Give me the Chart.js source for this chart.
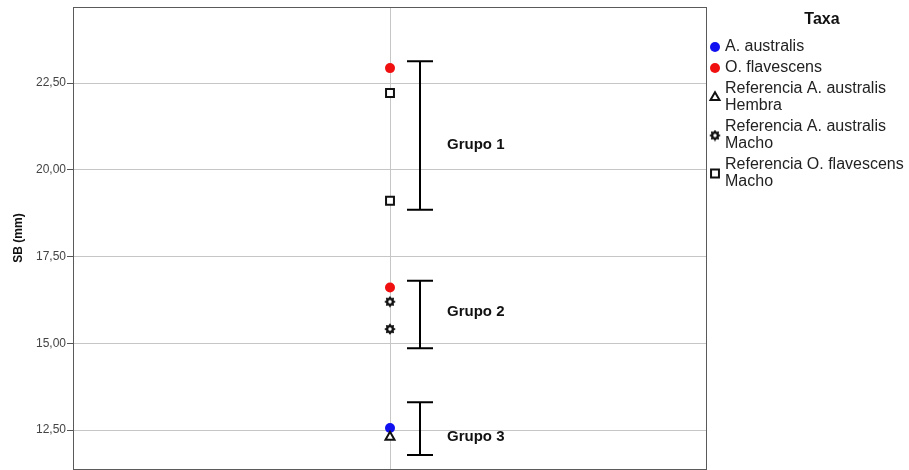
<!DOCTYPE html>
<html>
<head>
<meta charset="utf-8">
<script src="https://cdn.jsdelivr.net/npm/chart.js@4/dist/chart.umd.min.js"></script>
<style>
  html, body { margin: 0; padding: 0; background: #fff; }
  #wrap { width: 909px; height: 470px; }
</style>
</head>
<body>
<div id="wrap"><canvas id="c" width="909" height="470"></canvas></div>
<script>
// SB (mm) values per taxon
const taxa = ['A. australis', 'O. flavescens', 'Referencia A. australis Hembra', 'Referencia A. australis Macho', 'Referencia O. flavescens Macho'];
const legendLines = [['A. australis'], ['O. flavescens'], ['Referencia A. australis', 'Hembra'], ['Referencia A. australis', 'Macho'], ['Referencia O. flavescens', 'Macho']];
const aAustralis = [12.56];
const oFlavescens = [22.93, 16.61];
const refAAustralisHembra = [12.30];
const refAAustralisMacho = [16.20, 15.41];
const refOFlavescensMacho = [22.21, 19.11];

// Groups marked beside the points
const groupNames = ['Grupo 1', 'Grupo 2', 'Grupo 3'];
const groupTop = [23.13, 16.80, 13.30];
const groupBottom = [18.85, 14.86, 11.78];
const groupLabelAt = [20.71, 15.91, 12.30];

// Axis
const yTicks = [12.5, 15, 17.5, 20, 22.5];
const yMin = 11.38, yMax = 24.69;

const FONT = '"Liberation Sans", Arial, sans-serif';

// Sun-like star marker
function makeStar(size) {
  const c = document.createElement('canvas');
  c.width = c.height = size;
  const g = c.getContext('2d');
  const cx = size / 2, cy = size / 2;
  const ro = size / 2 - 0.2, ri = ro * 0.68;
  g.beginPath();
  for (let i = 0; i < 16; i++) {
    const a = -Math.PI / 2 + i * Math.PI / 8;
    const r = i % 2 === 0 ? ro : ri;
    const x = cx + r * Math.cos(a), y = cy + r * Math.sin(a);
    i === 0 ? g.moveTo(x, y) : g.lineTo(x, y);
  }
  g.closePath();
  g.fillStyle = '#111';
  g.fill();
  g.beginPath();
  g.arc(cx, cy, ro * 0.3, 0, Math.PI * 2);
  g.fillStyle = '#fff';
  g.fill();
  return c;
}
const starImg = makeStar(12);

const pts = arr => arr.map(v => ({ x: 0, y: v }));

const styles = [
  { pointStyle: 'circle', radius: 5, backgroundColor: '#1010f0', borderColor: '#1010f0', borderWidth: 0 },
  { pointStyle: 'circle', radius: 5, backgroundColor: '#f01010', borderColor: '#f01010', borderWidth: 0 },
  { pointStyle: 'triangle', radius: 5.2, backgroundColor: '#fff', borderColor: '#111', borderWidth: 2 },
  { pointStyle: starImg, radius: 6, backgroundColor: '#111', borderColor: '#111', borderWidth: 0 },
  { pointStyle: 'rect', radius: 5.6, backgroundColor: '#fff', borderColor: '#111', borderWidth: 2 }
];
const series = [aAustralis, oFlavescens, refAAustralisHembra, refAAustralisMacho, refOFlavescensMacho];

// Draw order: references first, sample points on top
const order = [2, 3, 4, 0, 1];
const datasets = order.map(i => ({
  label: taxa[i],
  data: pts(series[i]),
  pointStyle: styles[i].pointStyle,
  pointRadius: styles[i].radius,
  pointHoverRadius: styles[i].radius,
  pointBackgroundColor: styles[i].backgroundColor,
  pointBorderColor: styles[i].borderColor,
  pointBorderWidth: styles[i].borderWidth,
  showLine: false,
  clip: false
}));

function drawMarker(ctx, s, px, py) {
  ctx.save();
  ctx.fillStyle = s.backgroundColor;
  ctx.strokeStyle = s.borderColor;
  ctx.lineWidth = s.borderWidth || 1;
  Chart.helpers.drawPoint(ctx, { pointStyle: s.pointStyle, radius: s.radius, borderWidth: s.borderWidth }, px, py);
  ctx.restore();
}

// Frame, group brackets and the legend
const extras = {
  id: 'extras',
  afterDatasetsDraw(chart) {
    const { ctx, chartArea: a, scales: { x, y } } = chart;
    ctx.save();
    // plot frame
    ctx.strokeStyle = '#5a5a5a';
    ctx.lineWidth = 1;
    ctx.strokeRect(Math.round(a.left) + 0.5, Math.round(a.top) + 0.5, Math.round(a.right - a.left) - 1, Math.round(a.bottom - a.top));

    // brackets
    const bx = Math.round(x.getPixelForValue(0)) + 30;
    ctx.strokeStyle = '#000';
    ctx.lineWidth = 2;
    ctx.fillStyle = '#111';
    ctx.font = 'bold 15px ' + FONT;
    ctx.textBaseline = 'middle';
    ctx.textAlign = 'left';
    groupNames.forEach((name, i) => {
      const t = y.getPixelForValue(groupTop[i]);
      const b = y.getPixelForValue(groupBottom[i]);
      ctx.beginPath();
      ctx.moveTo(bx, t); ctx.lineTo(bx, b);
      ctx.moveTo(bx - 13, t); ctx.lineTo(bx + 13, t);
      ctx.moveTo(bx - 13, b); ctx.lineTo(bx + 13, b);
      ctx.stroke();
      ctx.fillText(name, bx + 27, y.getPixelForValue(groupLabelAt[i]));
    });

    // legend
    const lx = a.right + 8;
    ctx.textAlign = 'center';
    ctx.font = 'bold 16px ' + FONT;
    ctx.fillStyle = '#111';
    ctx.fillText('Taxa', 822, 20);
    ctx.textAlign = 'left';
    ctx.font = '16px ' + FONT;
    let cy = 47;
    const lh = 17;
    taxa.forEach((t, i) => {
      const lines = legendLines[i];
      const my = cy + (lines.length - 1) * lh / 2;
      drawMarker(ctx, styles[i], lx, my);
      ctx.fillStyle = '#222';
      lines.forEach((ln, k) => ctx.fillText(ln, lx + 10, cy + k * lh));
      cy += (lines.length - 1) * lh + 21;
    });
    ctx.restore();
  }
};

new Chart(document.getElementById('c'), {
  type: 'scatter',
  data: { datasets },
  options: {
    responsive: false,
    animation: false,
    devicePixelRatio: 1,
    layout: { autoPadding: false, padding: { left: 0, top: 7, right: 202, bottom: 1 } },
    plugins: { legend: { display: false }, tooltip: { enabled: false } },
    scales: {
      x: {
        type: 'linear', min: -1, max: 1,
        ticks: { display: false, stepSize: 1 },
        grid: { color: c => c.tick && c.tick.value === 0 ? '#c6c6c6' : 'rgba(0,0,0,0)', drawTicks: false, lineWidth: 1 },
        border: { display: false },
        afterFit: s => { s.height = 0; s.paddingLeft = 0; s.paddingRight = 0; }
      },
      y: {
        type: 'linear', min: yMin, max: yMax,
        afterBuildTicks: s => { s.ticks = yTicks.map(v => ({ value: v })); },
        ticks: {
          includeBounds: false,
          color: '#444',
          padding: 1,
          font: { family: FONT, size: 12 },
          callback: v => Number(v).toFixed(2).replace('.', ',')
        },
        grid: { color: '#c6c6c6', tickColor: '#555', tickLength: 6, lineWidth: 1 },
        border: { display: false },
        title: { display: true, text: 'SB (mm)', color: '#111', font: { family: FONT, size: 12, weight: 'bold' }, padding: { top: 11, bottom: 0 } },
        afterFit: s => { s.width = 73; s.paddingTop = 0; s.paddingBottom = 0; }
      }
    }
  },
  plugins: [extras]
});
</script>
</body>
</html>
